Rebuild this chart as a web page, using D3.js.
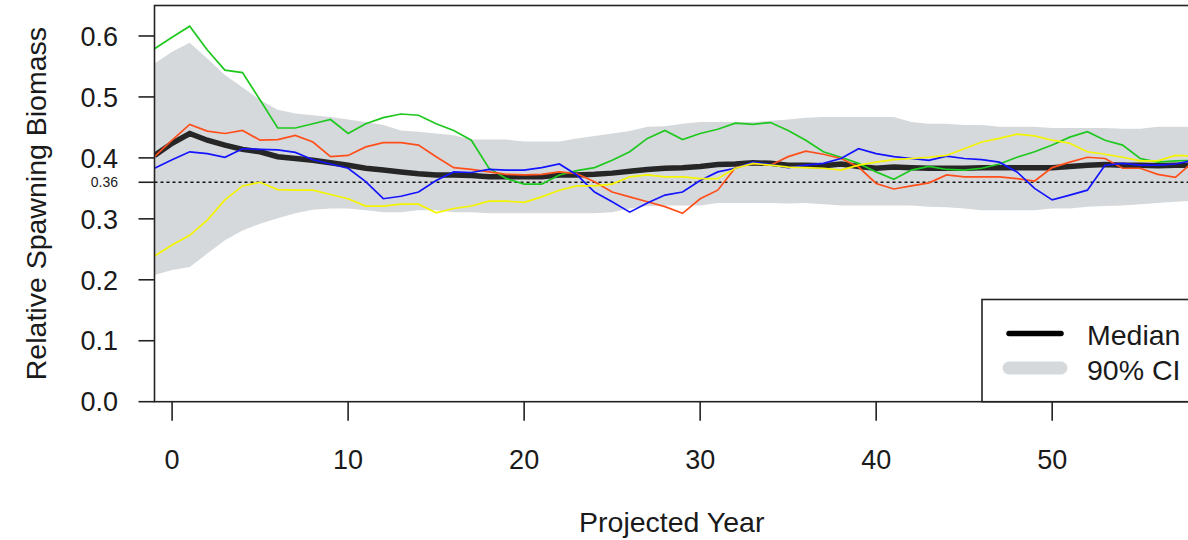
<!DOCTYPE html>
<html>
<head>
<meta charset="utf-8">
<script src="https://cdn.jsdelivr.net/npm/d3@7"></script>
<style>
  body { margin: 0; background: #fff; }
  text { font-family: "Liberation Sans", Arial, sans-serif; fill: #1a1a1a; }
</style>
</head>
<body>
<div id="chart"></div>
<script>
// projected years (first point is one year before 0)
var years = d3.range(-1, 59);

var median = [0.404, 0.424, 0.440, 0.429, 0.421, 0.414, 0.410, 0.402, 0.399, 0.396,
    0.392, 0.388, 0.383, 0.380, 0.377, 0.374, 0.372, 0.372, 0.371, 0.369,
    0.369, 0.369, 0.369, 0.372, 0.372, 0.373, 0.375, 0.378, 0.381, 0.383,
    0.384, 0.386, 0.389, 0.390, 0.392, 0.391, 0.388, 0.388, 0.387, 0.390,
    0.386, 0.383, 0.385, 0.384, 0.383, 0.383, 0.383, 0.384, 0.384, 0.384,
    0.384, 0.384, 0.386, 0.388, 0.389, 0.388, 0.388, 0.387, 0.388, 0.388];

var ciUpper = [0.555, 0.574, 0.589, 0.563, 0.536, 0.516, 0.495, 0.479, 0.473, 0.470,
    0.467, 0.463, 0.459, 0.454, 0.445, 0.443, 0.440, 0.437, 0.430, 0.430,
    0.430, 0.427, 0.427, 0.427, 0.432, 0.436, 0.440, 0.444, 0.451, 0.452,
    0.456, 0.459, 0.459, 0.459, 0.459, 0.461, 0.463, 0.466, 0.467, 0.467,
    0.467, 0.467, 0.467, 0.459, 0.456, 0.456, 0.454, 0.454, 0.451, 0.451,
    0.451, 0.449, 0.449, 0.449, 0.449, 0.448, 0.448, 0.451, 0.451, 0.451];

var ciLower = [0.208, 0.216, 0.221, 0.243, 0.265, 0.281, 0.292, 0.301, 0.309, 0.315,
    0.317, 0.317, 0.314, 0.311, 0.311, 0.314, 0.314, 0.311, 0.311, 0.309,
    0.309, 0.309, 0.309, 0.309, 0.309, 0.309, 0.311, 0.317, 0.321, 0.322,
    0.322, 0.322, 0.326, 0.326, 0.326, 0.326, 0.325, 0.326, 0.324, 0.322,
    0.322, 0.322, 0.322, 0.322, 0.320, 0.319, 0.317, 0.314, 0.314, 0.314,
    0.314, 0.317, 0.317, 0.320, 0.321, 0.322, 0.324, 0.326, 0.328, 0.330];

var simGreen = [0.579, 0.598, 0.616, 0.577, 0.544, 0.540, 0.495, 0.449, 0.449, 0.456,
    0.463, 0.440, 0.456, 0.466, 0.472, 0.470, 0.456, 0.445, 0.429, 0.383,
    0.366, 0.357, 0.357, 0.372, 0.379, 0.384, 0.396, 0.410, 0.432, 0.445,
    0.430, 0.440, 0.447, 0.457, 0.455, 0.458, 0.445, 0.429, 0.410, 0.401,
    0.391, 0.377, 0.365, 0.380, 0.386, 0.381, 0.380, 0.383, 0.390, 0.401,
    0.410, 0.421, 0.434, 0.443, 0.429, 0.421, 0.399, 0.393, 0.395, 0.396];

var simOrange = [0.402, 0.429, 0.455, 0.444, 0.440, 0.445, 0.429, 0.430, 0.437, 0.426,
    0.402, 0.404, 0.418, 0.425, 0.425, 0.421, 0.402, 0.384, 0.381, 0.377,
    0.373, 0.372, 0.373, 0.377, 0.374, 0.361, 0.344, 0.336, 0.328, 0.320,
    0.309, 0.333, 0.347, 0.384, 0.391, 0.388, 0.402, 0.411, 0.406, 0.399,
    0.385, 0.358, 0.349, 0.354, 0.359, 0.372, 0.369, 0.369, 0.369, 0.366,
    0.362, 0.384, 0.393, 0.401, 0.399, 0.383, 0.383, 0.373, 0.368, 0.393];

var simBlue = [0.383, 0.397, 0.410, 0.407, 0.401, 0.415, 0.414, 0.413, 0.409, 0.397,
    0.390, 0.383, 0.361, 0.333, 0.337, 0.344, 0.363, 0.377, 0.376, 0.381,
    0.380, 0.380, 0.384, 0.390, 0.372, 0.344, 0.328, 0.311, 0.326, 0.339,
    0.344, 0.363, 0.377, 0.383, 0.393, 0.389, 0.384, 0.388, 0.391, 0.399,
    0.415, 0.407, 0.402, 0.399, 0.396, 0.403, 0.399, 0.397, 0.393, 0.377,
    0.350, 0.331, 0.339, 0.347, 0.388, 0.391, 0.388, 0.388, 0.390, 0.396];

var simYellow = [0.239, 0.257, 0.273, 0.298, 0.331, 0.354, 0.360, 0.348, 0.347, 0.347,
    0.340, 0.333, 0.321, 0.321, 0.324, 0.324, 0.310, 0.317, 0.321, 0.329,
    0.329, 0.327, 0.336, 0.347, 0.354, 0.354, 0.357, 0.369, 0.372, 0.369,
    0.369, 0.366, 0.366, 0.383, 0.391, 0.388, 0.385, 0.384, 0.383, 0.380,
    0.388, 0.393, 0.397, 0.399, 0.401, 0.404, 0.415, 0.426, 0.432, 0.439,
    0.436, 0.429, 0.424, 0.410, 0.406, 0.401, 0.395, 0.395, 0.404, 0.403];

var refLevel = 0.36;
var xTicks = [0, 10, 20, 30, 40, 50];
var yTicks = [0.0, 0.1, 0.2, 0.3, 0.4, 0.5, 0.6];
var legendLabels = ["Median", "90% CI"];

var W = 1188, H = 540;
// plot region edges (not named top/left: window.top is reserved)
var pL = 154.5, pR = 1193, pT = 5.5, pB = 401.7;

var svg = d3.select("#chart").append("svg")
    .attr("width", W).attr("height", H);

var x = d3.scaleLinear().domain([-1, 58]).range([pL, pR]);
var y = d3.scaleLinear().domain([0, 0.65]).range([pB, pT]);

svg.append("clipPath").attr("id", "plotclip")
    .append("rect").attr("x", pL).attr("y", pT)
    .attr("width", pR - pL).attr("height", pB - pT);

var plot = svg.append("g").attr("clip-path", "url(#plotclip)");

//90% CI band
var band = d3.area()
    .x((d, i) => x(years[i]))
    .y0((d, i) => y(ciLower[i]))
    .y1((d, i) => y(ciUpper[i]));
plot.append("path").datum(ciUpper)
    .attr("d", band).attr("fill", "#d6d9dc");

//reference line
plot.append("line")
    .attr("x1", pL).attr("x2", pR)
    .attr("y1", y(refLevel)).attr("y2", y(refLevel))
    .attr("stroke", "#111").attr("stroke-width", 1.6)
    .attr("stroke-dasharray", "3,3");

var line = d3.line().x((d, i) => x(years[i])).y(d => y(d));

plot.append("path").datum(median)
    .attr("d", line).attr("fill", "none")
    .attr("stroke", "#262626").attr("stroke-width", 5.5);

var sims = [
    { vals: simGreen, color: "#1ec81e" },
    { vals: simOrange, color: "#ff4f1a" },
    { vals: simBlue, color: "#1414ff" },
    { vals: simYellow, color: "#f5f500" }
];
sims.forEach(function (s) {
    plot.append("path").datum(s.vals)
        .attr("d", line).attr("fill", "none")
        .attr("stroke", s.color).attr("stroke-width", 1.7);
});

//frame
svg.append("rect")
    .attr("x", pL).attr("y", pT)
    .attr("width", pR - pL).attr("height", pB - pT)
    .attr("fill", "none").attr("stroke", "#222").attr("stroke-width", 1.6);

//y axis
var yAxis = svg.append("g");
yTicks.forEach(function (t) {
    yAxis.append("line")
        .attr("x1", pL - 16).attr("x2", pL)
        .attr("y1", y(t)).attr("y2", y(t))
        .attr("stroke", "#222").attr("stroke-width", 1.6);
    yAxis.append("text")
        .attr("x", 118).attr("y", y(t))
        .attr("dy", "0.36em")
        .attr("text-anchor", "end")
        .style("font-size", "27px")
        .text(d3.format(".1f")(t));
});
yAxis.append("line")
    .attr("x1", pL - 16).attr("x2", pL)
    .attr("y1", y(refLevel)).attr("y2", y(refLevel))
    .attr("stroke", "#222").attr("stroke-width", 1.6);
yAxis.append("text")
    .attr("x", 118).attr("y", y(refLevel))
    .attr("dy", "0.36em")
    .attr("text-anchor", "end")
    .style("font-size", "14px")
    .text(refLevel);

//x axis
var xAxis = svg.append("g");
xTicks.forEach(function (t) {
    xAxis.append("line")
        .attr("x1", x(t)).attr("x2", x(t))
        .attr("y1", pB).attr("y2", pB + 19)
        .attr("stroke", "#222").attr("stroke-width", 1.6);
    xAxis.append("text")
        .attr("x", x(t)).attr("y", 469)
        .attr("text-anchor", "middle")
        .style("font-size", "27px")
        .text(t);
});

//axis titles
svg.append("text")
    .attr("x", (pL + pR) / 2 - 2).attr("y", 532)
    .attr("text-anchor", "middle")
    .style("font-size", "28.5px")
    .text("Projected Year");

svg.append("text")
    .attr("transform", "translate(46," + (pT + pB) / 2 + ") rotate(-90)")
    .attr("text-anchor", "middle")
    .style("font-size", "28.5px")
    .text("Relative Spawning Biomass");

//legend
var lg = svg.append("g");
lg.append("rect")
    .attr("x", 982).attr("y", 299.5)
    .attr("width", 230).attr("height", pB - 299.5)
    .attr("fill", "#fff").attr("stroke", "#222").attr("stroke-width", 1.6);
lg.append("line")
    .attr("x1", 1009).attr("x2", 1061)
    .attr("y1", 333.5).attr("y2", 333.5)
    .attr("stroke", "#000").attr("stroke-width", 5.5)
    .attr("stroke-linecap", "round");
lg.append("line")
    .attr("x1", 1009).attr("x2", 1061)
    .attr("y1", 368).attr("y2", 368)
    .attr("stroke", "#d6d9dc").attr("stroke-width", 13)
    .attr("stroke-linecap", "round");
legendLabels.forEach(function (lab, i) {
    lg.append("text")
        .attr("x", 1087).attr("y", 334.5 + i * 35)
        .attr("dy", "0.36em")
        .style("font-size", "28.5px")
        .text(lab);
});
</script>
</body>
</html>
